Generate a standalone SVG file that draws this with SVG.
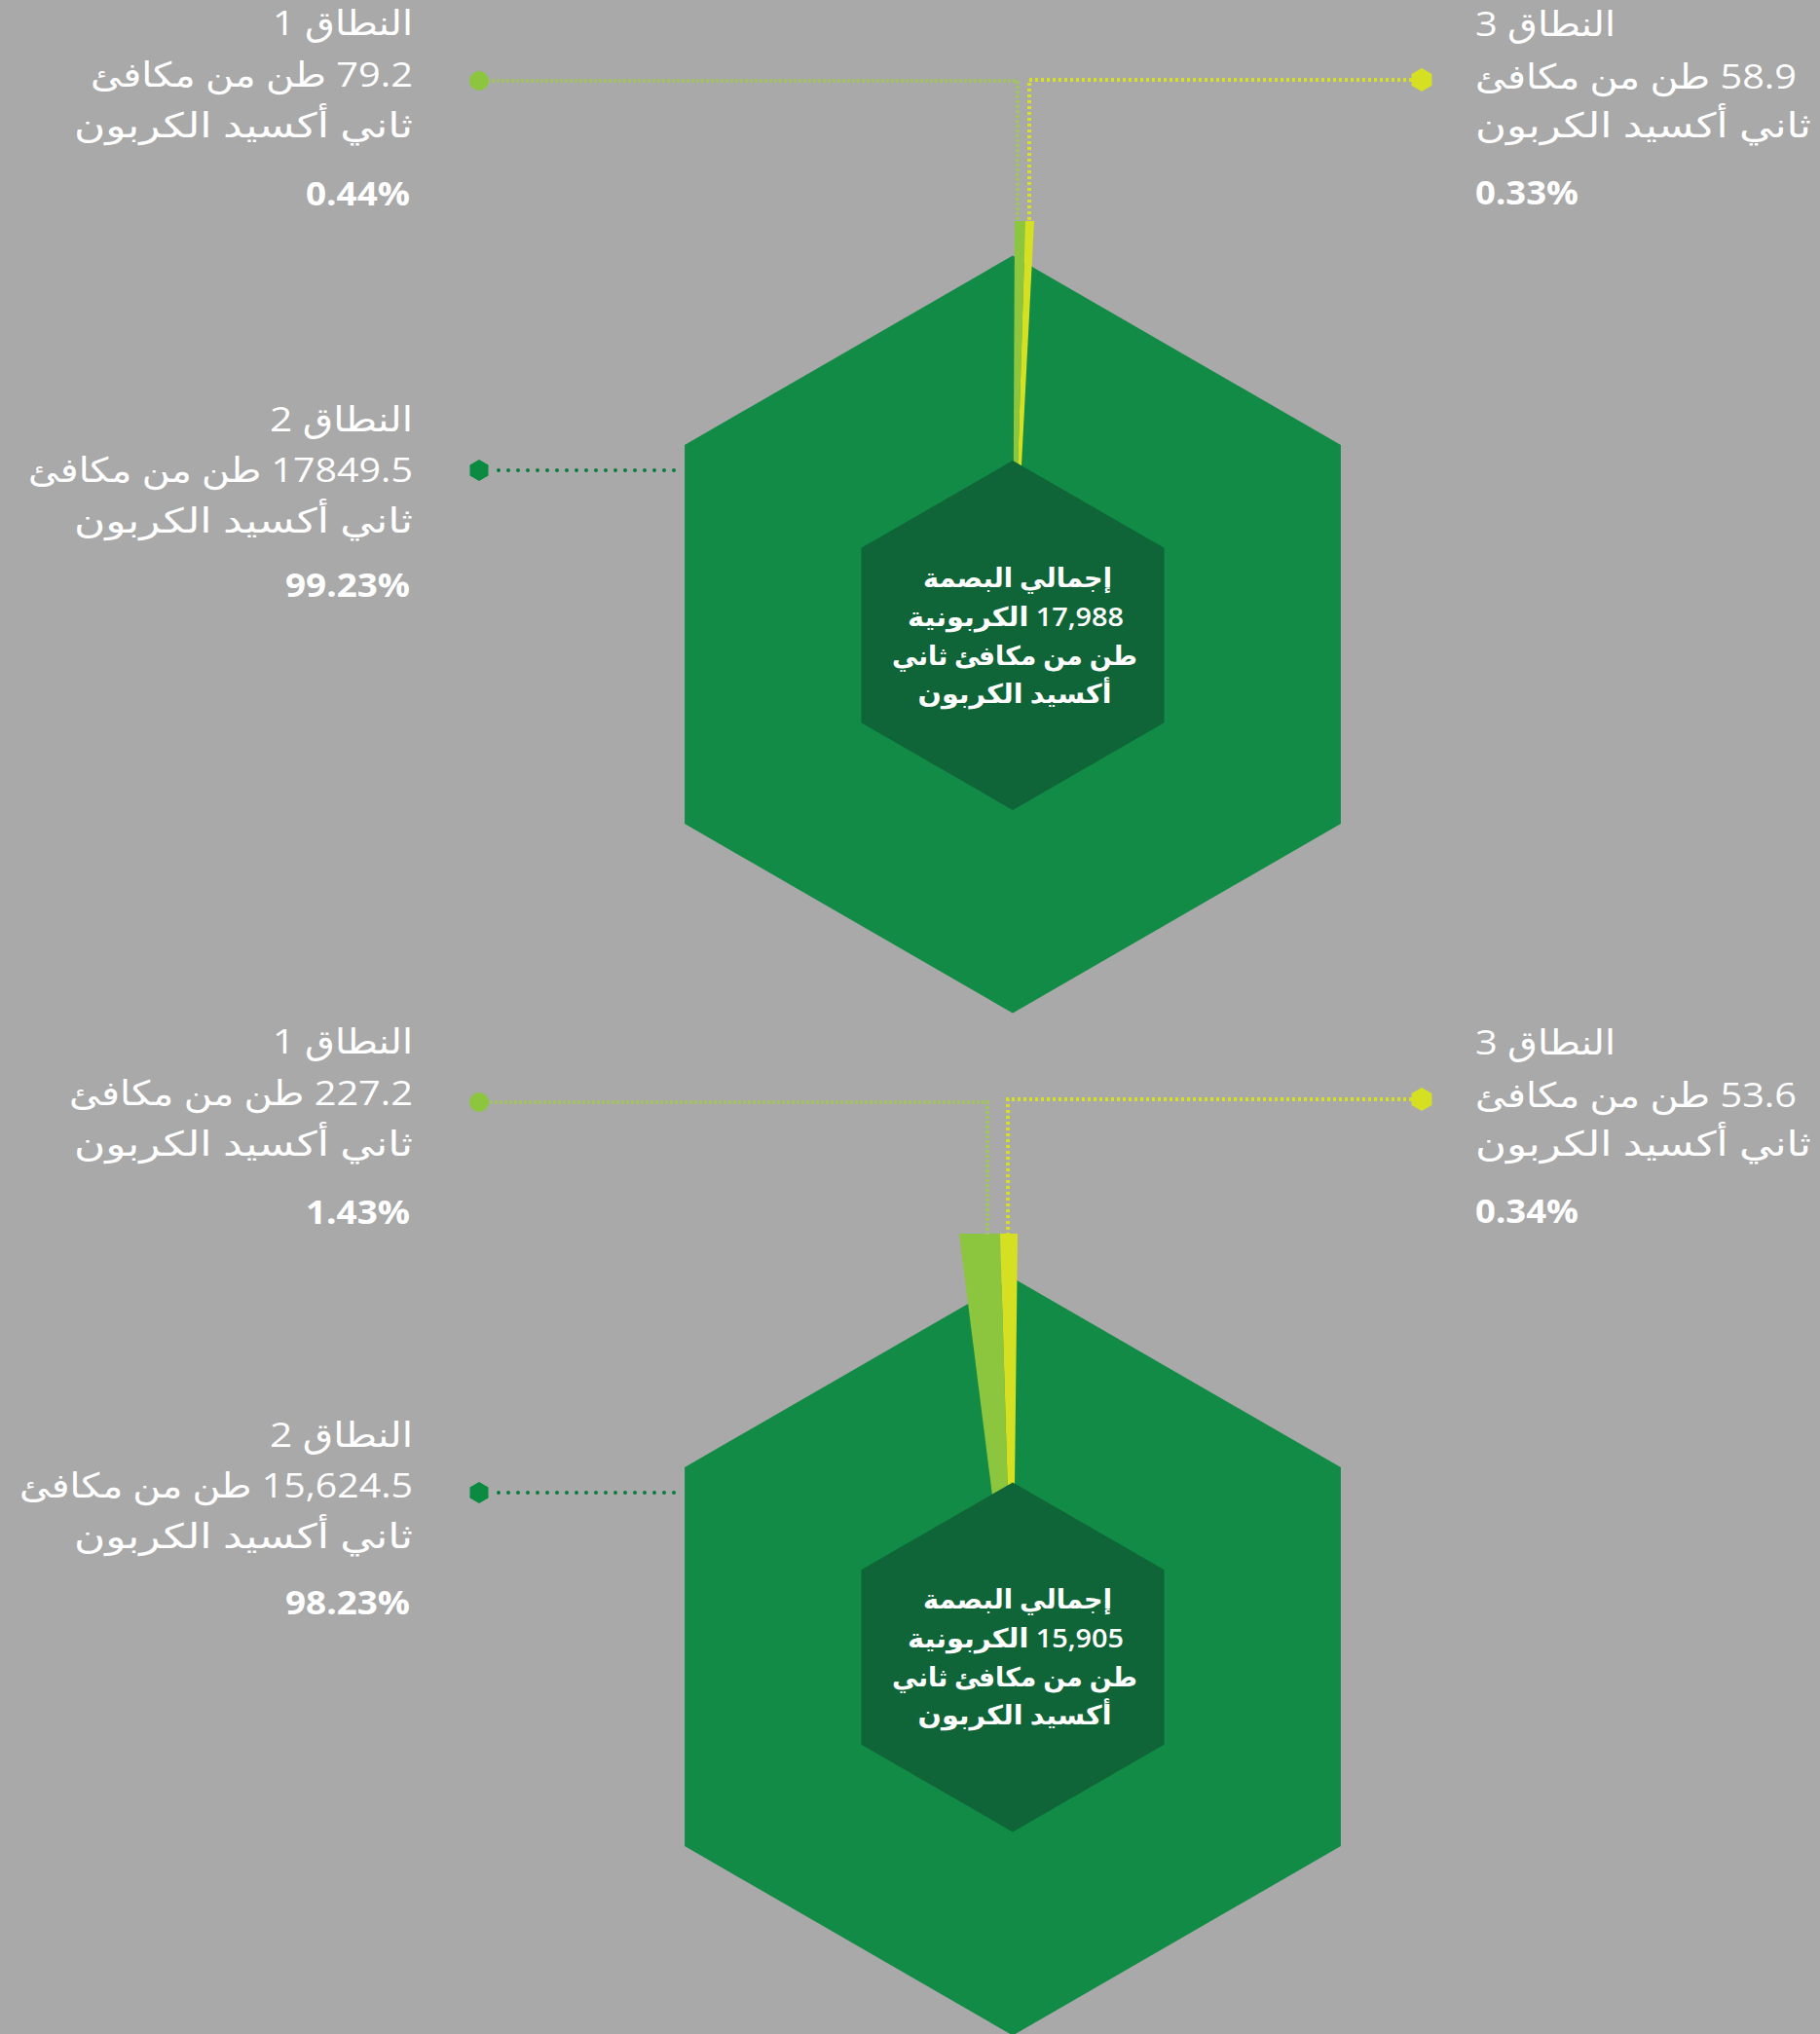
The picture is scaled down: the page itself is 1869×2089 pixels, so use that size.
<svg xmlns="http://www.w3.org/2000/svg" width="1869" height="2089" viewBox="0 0 1869 2089">
<style>
  text { fill: #ffffff; font-family: "Open Sans", "DejaVu Sans", sans-serif; }
  .lbl { font-size: 35px; direction: rtl; }
  .ra { text-anchor: start; }
  .la { text-anchor: end; }
  .pct { font-size: 34px; font-weight: bold; }
  .ctr { font-size: 27px; font-weight: 600; direction: rtl; text-anchor: middle; }
  .hexbig { fill: #118b45; }
  .hexin { fill: #0f6537; }
  .w1 { fill: #8cc63f; }
  .w3 { fill: #d4e021; }
  .c1 { fill: none; stroke: #a3c266; stroke-width: 4; stroke-dasharray: 3 2; }
  .c3 { fill: none; stroke: #d4e021; stroke-width: 4; stroke-dasharray: 3 3; }
  .c2 { fill: none; stroke: #0b7a3c; stroke-width: 4; stroke-linecap: round; stroke-dasharray: 0 10; }
</style>
<rect width="1869" height="2089" fill="#a9a9a9"/>

<!-- ===== Top chart ===== -->
<g id="hex-top">
  <polygon class="hexbig" points="1040,262.5 1376.9,457 1376.9,846 1040,1040.5 703.1,846 703.1,457"/>
  <polygon class="w1" points="1042,227 1053,227 1040,652"/>
  <polygon class="w3" points="1053,227 1062,227 1040,652"/>
</g>
<g id="center-top">
  <polygon class="hexin" points="1040,473 1195.5,562.75 1195.5,742.25 1040,832 884.5,742.25 884.5,562.75"/>
  <text class="ctr" x="1045" y="603" textLength="194" lengthAdjust="spacingAndGlyphs">إجمالي البصمة</text>
  <text class="ctr" x="1043" y="643" textLength="222" lengthAdjust="spacingAndGlyphs">17,988 الكربونية</text>
  <text class="ctr" x="1042" y="683" textLength="252" lengthAdjust="spacingAndGlyphs">طن من مكافئ ثاني</text>
  <text class="ctr" x="1042" y="722" textLength="199" lengthAdjust="spacingAndGlyphs">أكسيد الكربون</text>
</g>

<!-- ===== Bottom chart ===== -->
<g id="hex-bottom">
  <polygon class="hexbig" points="1040,1312.5 1376.9,1507 1376.9,1896 1040,2090.5 703.1,1896 703.1,1507"/>
  <polygon class="w1" points="985,1267 1027,1267 1040,1702"/>
  <polygon class="w3" points="1027,1267 1045,1267 1040,1702"/>
</g>
<g id="center-bottom">
  <polygon class="hexin" points="1040,1522.5 1195.5,1612.25 1195.5,1791.75 1040,1881.5 884.5,1791.75 884.5,1612.25"/>
  <text class="ctr" x="1045" y="1652" textLength="194" lengthAdjust="spacingAndGlyphs">إجمالي البصمة</text>
  <text class="ctr" x="1043" y="1692" textLength="222" lengthAdjust="spacingAndGlyphs">15,905 الكربونية</text>
  <text class="ctr" x="1042" y="1732" textLength="252" lengthAdjust="spacingAndGlyphs">طن من مكافئ ثاني</text>
  <text class="ctr" x="1042" y="1771" textLength="199" lengthAdjust="spacingAndGlyphs">أكسيد الكربون</text>
</g>

<!-- ===== Connectors ===== -->
<g id="connectors">
  <polyline class="c1" points="500,83 1045,83 1045,228"/>
  <polyline class="c3" points="1450,82 1057,82 1057,228"/>
  <line class="c2" x1="512" y1="483" x2="698" y2="483"/>
  <polyline class="c1" points="498,1132 1014,1132 1014,1268"/>
  <polyline class="c3" points="1450,1129 1035,1129 1035,1268"/>
  <line class="c2" x1="512" y1="1533" x2="698" y2="1533"/>
</g>

<!-- ===== Top labels ===== -->
<g id="scope1-top">
  <circle cx="492" cy="83" r="10" fill="#8cc63f"/>
  <text class="lbl ra" x="424" y="36" textLength="144" lengthAdjust="spacingAndGlyphs">النطاق 1</text>
  <text class="lbl ra" x="424" y="89" textLength="331" lengthAdjust="spacingAndGlyphs">79.2 طن من مكافئ</text>
  <text class="lbl ra" x="424" y="141" textLength="348" lengthAdjust="spacingAndGlyphs">ثاني أكسيد الكربون</text>
  <text class="pct" x="421" y="211" text-anchor="end" textLength="107" lengthAdjust="spacingAndGlyphs">0.44%</text>
</g>
<g id="scope3-top">
  <polygon points="1460,70 1470.4,76 1470.4,88 1460,94 1449.6,88 1449.6,76" fill="#d4e021"/>
  <text class="lbl la" x="1515" y="37" textLength="144" lengthAdjust="spacingAndGlyphs">النطاق 3</text>
  <text class="lbl la" x="1515" y="91" textLength="330" lengthAdjust="spacingAndGlyphs">58.9 طن من مكافئ</text>
  <text class="lbl la" x="1515" y="141" textLength="345" lengthAdjust="spacingAndGlyphs">ثاني أكسيد الكربون</text>
  <text class="pct" x="1515" y="210" text-anchor="start" textLength="106" lengthAdjust="spacingAndGlyphs">0.33%</text>
</g>
<g id="scope2-top">
  <polygon points="492,472 501.5,477.5 501.5,488.5 492,494 482.5,488.5 482.5,477.5" fill="#0b8a41"/>
  <text class="lbl ra" x="424" y="443" textLength="147" lengthAdjust="spacingAndGlyphs">النطاق 2</text>
  <text class="lbl ra" x="424" y="495" textLength="395" lengthAdjust="spacingAndGlyphs">17849.5 طن من مكافئ</text>
  <text class="lbl ra" x="424" y="547" textLength="348" lengthAdjust="spacingAndGlyphs">ثاني أكسيد الكربون</text>
  <text class="pct" x="421" y="613" text-anchor="end" textLength="128" lengthAdjust="spacingAndGlyphs">99.23%</text>
</g>

<!-- ===== Bottom labels ===== -->
<g id="scope1-bottom">
  <circle cx="492" cy="1132" r="10" fill="#8cc63f"/>
  <text class="lbl ra" x="424" y="1082" textLength="144" lengthAdjust="spacingAndGlyphs">النطاق 1</text>
  <text class="lbl ra" x="424" y="1135" textLength="353" lengthAdjust="spacingAndGlyphs">227.2 طن من مكافئ</text>
  <text class="lbl ra" x="424" y="1187" textLength="348" lengthAdjust="spacingAndGlyphs">ثاني أكسيد الكربون</text>
  <text class="pct" x="421" y="1257" text-anchor="end" textLength="107" lengthAdjust="spacingAndGlyphs">1.43%</text>
</g>
<g id="scope3-bottom">
  <polygon points="1460,1117 1470.4,1123 1470.4,1135 1460,1141 1449.6,1135 1449.6,1123" fill="#d4e021"/>
  <text class="lbl la" x="1515" y="1083" textLength="144" lengthAdjust="spacingAndGlyphs">النطاق 3</text>
  <text class="lbl la" x="1515" y="1137" textLength="330" lengthAdjust="spacingAndGlyphs">53.6 طن من مكافئ</text>
  <text class="lbl la" x="1515" y="1187" textLength="345" lengthAdjust="spacingAndGlyphs">ثاني أكسيد الكربون</text>
  <text class="pct" x="1515" y="1256" text-anchor="start" textLength="106" lengthAdjust="spacingAndGlyphs">0.34%</text>
</g>
<g id="scope2-bottom">
  <polygon points="492,1522 501.5,1527.5 501.5,1538.5 492,1544 482.5,1538.5 482.5,1527.5" fill="#0b8a41"/>
  <text class="lbl ra" x="424" y="1486" textLength="147" lengthAdjust="spacingAndGlyphs">النطاق 2</text>
  <text class="lbl ra" x="424" y="1538" textLength="404" lengthAdjust="spacingAndGlyphs">15,624.5 طن من مكافئ</text>
  <text class="lbl ra" x="424" y="1590" textLength="348" lengthAdjust="spacingAndGlyphs">ثاني أكسيد الكربون</text>
  <text class="pct" x="421" y="1658" text-anchor="end" textLength="128" lengthAdjust="spacingAndGlyphs">98.23%</text>
</g>
</svg>
